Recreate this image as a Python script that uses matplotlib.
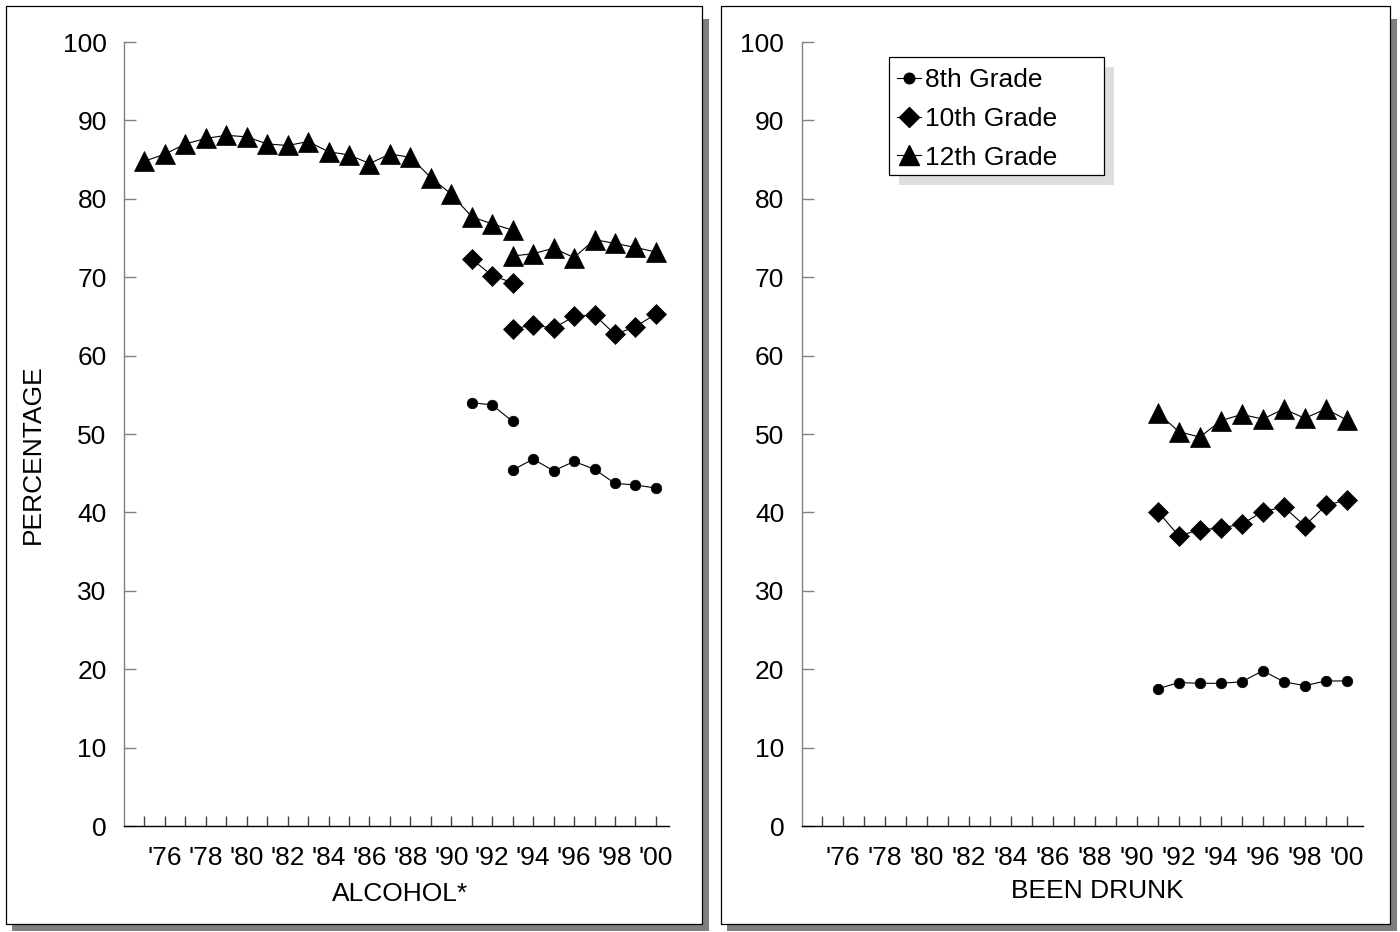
import matplotlib
matplotlib.use("Agg")
import matplotlib.pyplot as plt
from matplotlib.patches import Rectangle
from matplotlib.lines import Line2D

plt.rcParams['font.family'] = ['Liberation Sans', 'DejaVu Sans']

# ---- data: annual prevalence (%) ----
# Alcohol, 12th grade (original question wording, 1975-1993) and revised wording (1993-2000)
alc12_old_years = list(range(1975, 1994))
alc12_old = [84.8, 85.7, 87.0, 87.7, 88.1, 87.9, 87.0, 86.8, 87.3, 86.0,
             85.6, 84.5, 85.7, 85.3, 82.7, 80.6, 77.7, 76.8, 76.0]
new_years = list(range(1993, 2001))
alc12_new = [72.7, 73.0, 73.7, 72.5, 74.8, 74.3, 73.8, 73.2]

old_years = [1991, 1992, 1993]
alc10_old = [72.3, 70.2, 69.3]
alc10_new = [63.4, 63.9, 63.5, 65.0, 65.2, 62.7, 63.7, 65.3]
alc8_old = [54.0, 53.7, 51.6]
alc8_new = [45.4, 46.8, 45.3, 46.5, 45.5, 43.7, 43.5, 43.1]

# Been drunk, 1991-2000
drunk_years = list(range(1991, 2001))
drunk12 = [52.7, 50.3, 49.6, 51.7, 52.5, 51.9, 53.2, 52.0, 53.2, 51.8]
drunk10 = [40.1, 37.0, 37.8, 38.0, 38.5, 40.1, 40.7, 38.3, 40.9, 41.6]
drunk8 = [17.5, 18.3, 18.2, 18.2, 18.4, 19.8, 18.4, 17.9, 18.5, 18.5]

tick_years = list(range(1975, 2001))
label_years = list(range(1976, 2001, 2))
y_ticks = list(range(0, 101, 10))
grade_labels = ['8th Grade', '10th Grade', '12th Grade']

# ---- styling ----
W, H = 1400, 932
FS = 19
STY = {
    '8':  dict(marker='o', ms=7.6, color='black', lw=0.8),
    '10': dict(marker='D', ms=10.2, color='black', lw=0.8),
    '12': dict(marker='^', ms=14.2, color='black', lw=0.8),
}

fig = plt.figure(figsize=(W / 100, H / 100), dpi=100)
fig.patch.set_facecolor('white')


def fx(px):
    return px / W


def fy(py):
    return 1 - py / H


def box(x0, y0, x1, y1, **kw):
    """Rectangle given in pixel corners (top-left origin)."""
    r = Rectangle((fx(x0), fy(y1)), (x1 - x0) / W, (y1 - y0) / H,
                  transform=fig.transFigure, **kw)
    fig.add_artist(r)
    return r


def panel_frame(x0, x1, y0=6, y1=924):
    # dark drop shadow along the right and bottom edges, then the outlined panel
    box(x1, y0 + 13, x1 + 7, y1 + 7, facecolor='#7f7f7f', edgecolor='none', zorder=-3)
    box(x0 + 6, y1, x1 + 7, y1 + 7, facecolor='#7f7f7f', edgecolor='none', zorder=-3)
    box(x0, y0, x1, y1, facecolor='white', edgecolor='black', lw=0.9, zorder=-2)


panel_frame(6, 702)
panel_frame(721, 1390)


def style_axes(ax, xl):
    ax.patch.set_visible(False)
    ax.set_xlim(*xl)
    ax.set_ylim(0, 100)
    for s in ('top', 'right'):
        ax.spines[s].set_visible(False)
    ax.spines['left'].set_color('#808080')
    ax.spines['left'].set_linewidth(1.0)
    ax.spines['bottom'].set_color('black')
    ax.spines['bottom'].set_linewidth(1.0)
    ax.set_yticks(y_ticks)
    ax.set_yticklabels([str(v) for v in y_ticks])
    ax.set_xticks(tick_years)
    ax.set_xticklabels(["'%02d" % (y % 100) if y in label_years else '' for y in tick_years])
    ax.tick_params(axis='y', direction='in', length=8.5, width=1.0, color='#808080',
                   labelsize=FS, pad=12.5)
    ax.tick_params(axis='x', direction='in', length=7.5, width=1.0, color='#444444',
                   labelsize=FS, pad=14.5)


def plot_series(ax, years, vals, key, z=3):
    ax.plot(years, vals, clip_on=False, zorder=z,
            markerfacecolor='black', markeredgecolor='black', markeredgewidth=0.5,
            **STY[key])


# ---- left panel: alcohol ----
axL = fig.add_axes([fx(124), fy(826), fx(669 - 124), (826 - 42) / H])
style_axes(axL, (1974.0, 2000.64))
plot_series(axL, alc12_old_years, alc12_old, '12')
plot_series(axL, new_years, alc12_new, '12')
plot_series(axL, old_years, alc10_old, '10')
plot_series(axL, new_years, alc10_new, '10')
plot_series(axL, old_years, alc8_old, '8')
plot_series(axL, new_years, alc8_new, '8')

fig.text(fx(400), fy(894), 'ALCOHOL*', ha='center', va='center', fontsize=FS)
fig.text(fx(33), fy(454), 'PERCENTAGE', ha='center', va='center', rotation=90, fontsize=FS)

# ---- right panel: been drunk ----
axR = fig.add_axes([fx(801.7), fy(826), fx(1362.7 - 801.7), (826 - 42) / H])
style_axes(axR, (1974.03, 2000.76))
plot_series(axR, drunk_years, drunk12, '12')
plot_series(axR, drunk_years, drunk10, '10')
plot_series(axR, drunk_years, drunk8, '8')

fig.text(fx(1097), fy(891), 'BEEN DRUNK', ha='center', va='center', fontsize=FS)

# legend box with light-grey drop shadow
box(899, 67, 1114, 185, facecolor='#dedede', edgecolor='none', zorder=-1)
box(889, 57, 1104, 175, facecolor='white', edgecolor='black', lw=0.9, zorder=-1)

handles = [Line2D([], [], markerfacecolor='black', markeredgecolor='black', **STY[k])
           for k in ('8', '10', '12')]
leg = axR.legend(handles, grade_labels, loc='upper left',
                 bbox_to_anchor=(fx(897), fy(68)), bbox_transform=fig.transFigure,
                 fontsize=FS, frameon=False, handlelength=0.9, handletextpad=0.15,
                 borderpad=0.0, labelspacing=0.56, borderaxespad=0)
leg.set_zorder(6)

fig.savefig('out.png', dpi=100, facecolor='white')
